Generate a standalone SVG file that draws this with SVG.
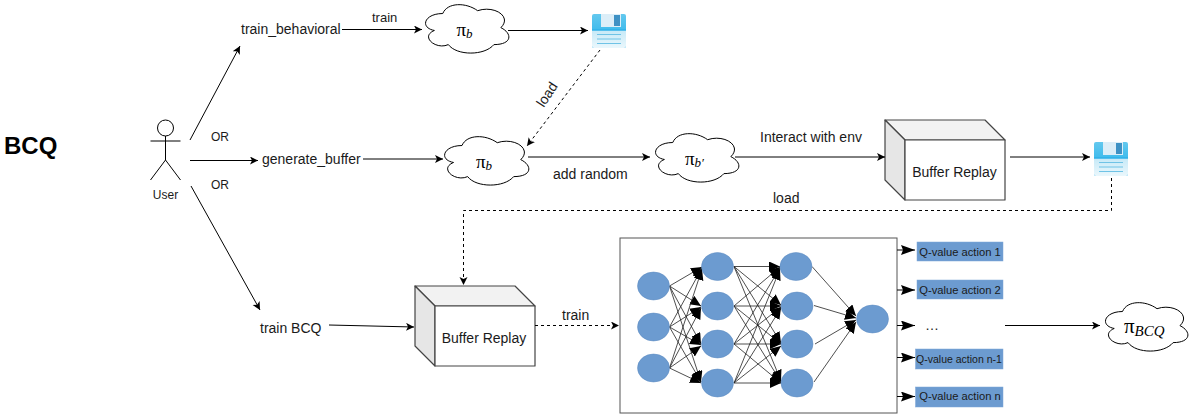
<svg xmlns="http://www.w3.org/2000/svg" width="1192" height="416" viewBox="0 0 1192 416">
<style>
text{font-family:"Liberation Sans",Arial,sans-serif;fill:#1a1a1a}
.l14{font-size:14px}.l13{font-size:13px}.l12{font-size:12px}.l11{font-size:11.2px}
.mid{text-anchor:middle}
.math{font-family:"Liberation Serif","DejaVu Serif",serif;fill:#000}
.sub{font-style:italic}
.c{fill:none;stroke:#000;stroke-width:1;marker-end:url(#a)}
.c2{fill:none;stroke:#000;stroke-width:1;marker-end:url(#b)}
.dash{stroke-dasharray:3 3}
.nn line{stroke:#222;stroke-width:.8;marker-end:url(#n)}
.cloud{fill:#fff;stroke:#000;stroke-width:1;vector-effect:non-scaling-stroke}
.neuron{fill:#6c9bd0;stroke:#5d8bc0;stroke-width:.5}
.q{fill:#6c9bd0;stroke:#7ea6d8;stroke-width:.5}
.box{stroke:#444;stroke-width:1.200;stroke-linejoin:round}
.actor{fill:none;stroke:#000;stroke-width:1}
</style>
<defs>
<marker id="a" markerUnits="userSpaceOnUse" markerWidth="10" markerHeight="10" refX="8" refY="4" orient="auto"><path d="M0 0L8 4L0 8L2 4Z" fill="#000"/></marker>
<marker id="b" markerUnits="userSpaceOnUse" markerWidth="16" markerHeight="12" refX="14" refY="5" orient="auto"><path d="M0 0L14 5L0 10L2 5Z" fill="#000"/></marker>
<marker id="n" markerUnits="userSpaceOnUse" markerWidth="14" markerHeight="12" refX="11" refY="5" orient="auto"><path d="M0 0L11 5L0 10Z" fill="#000"/></marker>
<linearGradient id="side" x1="0" y1="0" x2="0" y2="1"><stop offset="0" stop-color="#63c8ee"/><stop offset="1" stop-color="#18aeeb"/></linearGradient>
<linearGradient id="low" x1="0" y1="0" x2="0" y2="1"><stop offset="0" stop-color="#c6e9f7"/><stop offset="1" stop-color="#eaf7fc"/></linearGradient>
<symbol id="cl" viewBox="0 0 100 100" preserveAspectRatio="none" overflow="visible"><path class="cloud" d="M25 25C5 25 0 50 16 55C0 66 18 90 31 80C40 100 70 100 80 80C100 80 100 60 87.500 50C100 30 80 10 62.500 20C50 5 30 5 25 25Z"/></symbol>
<symbol id="disk" viewBox="0 0 34 34" overflow="visible">
<path d="M2 0H32Q34 0 34 2V32Q34 34 32 34H2Q0 34 0 32V2Q0 0 2 0Z" fill="url(#side)"/>
<path d="M9 0H29V13H9Z" fill="#dceef8"/>
<path d="M22 1H28V12H22Z" fill="#3e91c4"/>
<path d="M4 16H34V32Q34 34 32 34H2Q0 34 0 32V16Z" fill="url(#low)"/>
<path d="M0 16H34" stroke="#2fb0e8" stroke-width="1.500"/>
<path d="M5 20.500H29M5 25H29M5 29.500H29" stroke="#6fc3e6" stroke-width="1"/>
</symbol>
</defs>

<text id="title" x="4" y="154" font-size="24" font-weight="bold" style="fill:#000">BCQ</text>

<g id="user" class="actor">
<circle cx="165.500" cy="128" r="8"/>
<path d="M165.500 136V160M150.500 141H180.500M150.500 180L165.500 160L180.500 180"/>
<text class="l12 mid" x="165.500" y="199" style="stroke:none">User</text>
</g>
<g id="labels">
<text class="l12" x="211" y="141">OR</text>
<text class="l12" x="211" y="189">OR</text>
<text class="l13" x="372" y="22">train</text>
<text class="l14 mid" transform="translate(551,97) rotate(-57)" y="0">load</text>
<text class="l14" x="553" y="179">add random</text>
<text class="l14" x="760" y="142">Interact with env</text>
<text class="l14" x="773" y="203">load</text>
<text class="l14" x="562" y="320">train</text>
</g>
<g id="train_behavioral"><text class="l14" x="241" y="34">train_behavioral</text></g>
<g id="generate_buffer"><text class="l14" x="262" y="164">generate_buffer</text></g>
<g id="train_bcq"><text class="l14" x="260" y="333">train BCQ</text></g>

<g id="cloud1"><use href="#cl" x="419.500" y="-0.600" width="93" height="56.500"/><text class="math" x="456.500" y="35.500" font-size="19">π<tspan class="sub" font-size="13" dy="2">b</tspan></text></g>
<g id="cloud2"><use href="#cl" x="438.500" y="131.400" width="94" height="56.500"/><text class="math" x="476" y="168" font-size="19">π<tspan class="sub" font-size="13" dy="2">b</tspan></text></g>
<g id="cloud3"><use href="#cl" x="649.500" y="128.400" width="93" height="56.500"/><text class="math" x="685" y="165" font-size="19">π<tspan class="sub" font-size="13" dy="2">b′</tspan></text></g>
<g id="cloud4"><use href="#cl" x="1099.500" y="297.400" width="92" height="56.500"/><text class="math" x="1124" y="333" font-size="21">π<tspan class="sub" font-size="15" dy="3">BCQ</tspan></text></g>

<g id="disk1"><use href="#disk" x="592" y="14" width="34" height="34"/></g>
<g id="disk2"><use href="#disk" x="1094" y="142" width="34" height="34"/></g>

<g id="buffer1" class="box">
<path d="M885 120H985L1005 140H905Z" fill="#f2f2f2"/><path d="M885 120L905 140V200L885 180Z" fill="#e6e6e6"/><path d="M905 140H1005V200H905Z" fill="#fff"/>
<text class="l14 mid" x="954.500" y="177" style="stroke:none">Buffer Replay</text></g>
<g id="buffer2" class="box">
<path d="M415 286H515L535 306H435Z" fill="#f2f2f2"/><path d="M415 286L435 306V366L415 346Z" fill="#e6e6e6"/><path d="M435 306H535V366H435Z" fill="#fff"/>
<text class="l14 mid" x="484" y="343" style="stroke:none">Buffer Replay</text></g>

<g id="network">
<rect x="620" y="238" width="277" height="175" fill="#fff" stroke="#555" stroke-width="1"/>
<g class="nn">
<line x1="669.500" y1="286" x2="702" y2="267"/><line x1="669.500" y1="286" x2="701" y2="306"/><line x1="669.500" y1="286" x2="701" y2="344"/><line x1="669.500" y1="286" x2="701" y2="382"/>
<line x1="669.500" y1="327" x2="702" y2="268"/><line x1="669.500" y1="327" x2="701" y2="307"/><line x1="669.500" y1="327" x2="701" y2="345"/><line x1="669.500" y1="327" x2="701" y2="382"/>
<line x1="669.500" y1="368" x2="702" y2="269"/><line x1="669.500" y1="368" x2="701" y2="308"/><line x1="669.500" y1="368" x2="701" y2="346"/><line x1="669.500" y1="368" x2="701" y2="383"/>
<line x1="734" y1="266.500" x2="780" y2="266.500"/><line x1="734" y1="266.500" x2="781" y2="305"/><line x1="734" y1="266.500" x2="781" y2="343"/><line x1="734" y1="266.500" x2="781" y2="381"/>
<line x1="734" y1="306" x2="780" y2="267"/><line x1="734" y1="306" x2="781" y2="306"/><line x1="734" y1="306" x2="781" y2="344"/><line x1="734" y1="306" x2="781" y2="382"/>
<line x1="734" y1="344" x2="780" y2="268"/><line x1="734" y1="344" x2="781" y2="307"/><line x1="734" y1="344" x2="781" y2="344"/><line x1="734" y1="344" x2="781" y2="383"/>
<line x1="734" y1="383" x2="780" y2="269"/><line x1="734" y1="383" x2="781" y2="308"/><line x1="734" y1="383" x2="781" y2="346"/><line x1="734" y1="383" x2="781" y2="383"/>
<line x1="812" y1="266.500" x2="856" y2="316"/><line x1="814" y1="305.500" x2="856" y2="318"/><line x1="815" y1="344" x2="856" y2="320"/><line x1="814" y1="382" x2="856" y2="322"/>
</g>
<ellipse class="neuron" cx="653.500" cy="286" rx="16" ry="14"/><ellipse class="neuron" cx="653.500" cy="327" rx="16" ry="14"/><ellipse class="neuron" cx="653.500" cy="368" rx="16" ry="14"/>
<ellipse class="neuron" cx="717.500" cy="266.500" rx="16" ry="14"/><ellipse class="neuron" cx="717.500" cy="306" rx="16" ry="14"/><ellipse class="neuron" cx="717.500" cy="344" rx="16" ry="14"/><ellipse class="neuron" cx="717.500" cy="383" rx="16" ry="14"/>
<ellipse class="neuron" cx="796" cy="266.500" rx="16" ry="14"/><ellipse class="neuron" cx="797" cy="306" rx="16" ry="14"/><ellipse class="neuron" cx="797" cy="344" rx="16" ry="14"/><ellipse class="neuron" cx="797" cy="383" rx="16" ry="14"/>
<ellipse class="neuron" cx="872.500" cy="319" rx="16" ry="14"/>
</g>

<g id="q1"><rect class="q" x="917" y="242" width="86" height="19"/><text class="l11 mid" x="960" y="256">Q-value action 1</text></g>
<g id="q2"><rect class="q" x="917" y="280" width="86" height="19"/><text class="l11 mid" x="960" y="294">Q-value action 2</text></g>
<g id="qdots"><text class="l14" x="925" y="330">…</text></g>
<g id="q3"><rect class="q" x="915.500" y="349" width="87.500" height="20"/><text class="mid" font-size="10.500" x="959" y="363">Q-value action n-1</text></g>
<g id="q4"><rect class="q" x="915.500" y="387" width="87.500" height="20"/><text class="l11 mid" x="960" y="400">Q-value action n</text></g>

<g id="connectors">
<path class="c" d="M190 140L240 46"/>
<path class="c" d="M190 160.500L258 160.500"/>
<path class="c" d="M191 186L260 310"/>
<path class="c" d="M342 29.500L422 29.500"/>
<path class="c" d="M508 30.500L588 30.500"/>
<path class="c dash" d="M600 50L527 146"/>
<path class="c" d="M363 159L443 159"/>
<path class="c" d="M528 157L650 157"/>
<path class="c" d="M735 157L885 157"/>
<path class="c" d="M1010 157L1090 157"/>
<path class="c dash" d="M1111.500 178V210.500H463.500V285"/>
<path class="c" d="M329 325L414 327"/>
<path class="c dash" d="M535 325.500H619"/>
<path class="c2" d="M897 250H915"/>
<path class="c2" d="M897 290H915"/>
<path class="c2" d="M897 325.500H915"/>
<path class="c2" d="M897 357.500H915"/>
<path class="c2" d="M897 396.500H915"/>
<path class="c" d="M1005 325.500H1100"/>
</g>
</svg>
